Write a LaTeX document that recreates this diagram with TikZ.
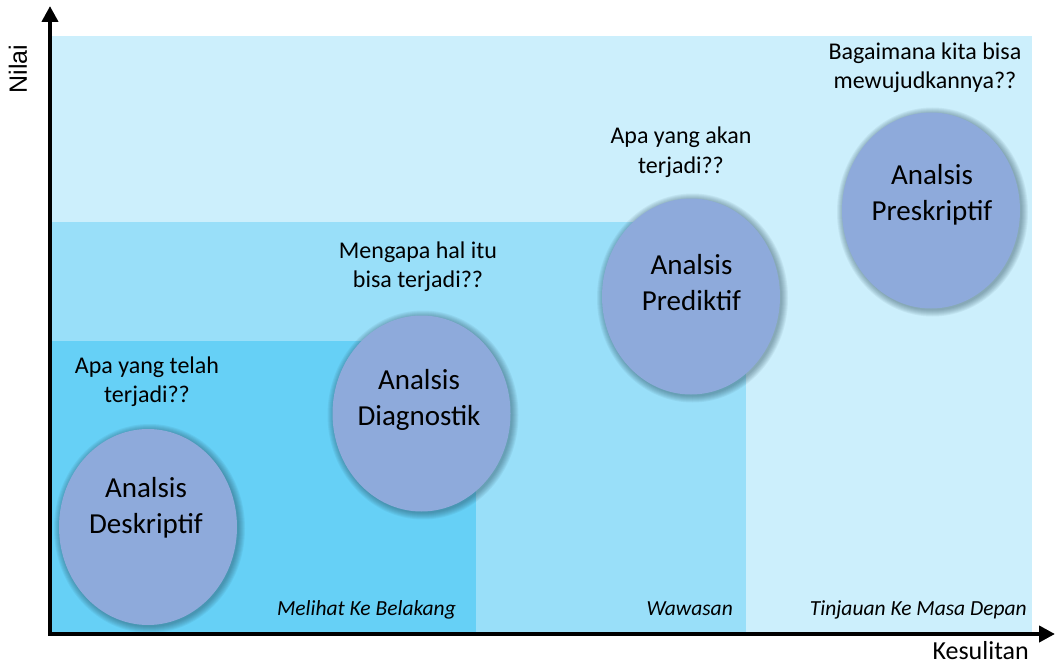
\documentclass[tikz,border=0pt]{standalone}
\usepackage{fontspec}
\setmainfont{Carlito}
\newfontfamily\arialfont{Liberation Sans}
\usetikzlibrary{shapes.geometric,arrows.meta}

\definecolor{bgA}{HTML}{CCEFFC}
\definecolor{bgB}{HTML}{99DFF9}
\definecolor{bgC}{HTML}{66D0F6}
\definecolor{circ}{HTML}{8EAADB}
\definecolor{halo}{HTML}{1F3F4F}

\begin{document}
\begin{tikzpicture}[x=1pt,y=-1pt,
  region/.style={fill=#1, draw=none},
  bubble/.style={ellipse, fill=circ, draw=none, minimum width=178pt, minimum height=196pt, inner sep=0pt},
  halostep/.style={fill=halo, fill opacity=0.065, draw=none},
  bubbletext/.style={anchor=base, align=center, font=\fontsize{29}{36}\selectfont},
  question/.style={anchor=base, align=center, font=\fontsize{24}{29}\selectfont},
  zone/.style={anchor=base east, inner sep=0pt, font=\fontsize{21.5}{25}\selectfont\itshape},
  axis/.style={line width=4pt, line join=miter, {Triangle[length=16pt,width=16pt]}-{Triangle[length=16pt,width=16pt]}}
]
\useasboundingbox (0,0) rectangle (1055,666);
\fill[white] (0,0) rectangle (1055,666);

% regions
\fill[region=bgA] (52,36) rectangle (1032,632);
\fill[region=bgB] (52,222) rectangle (746,632);
\fill[region=bgC] (52,341) rectangle (476,632);

% axes
\coordinate (ytip) at (50,6);
\coordinate (origin) at (50,634);
\coordinate (xtip) at (1055,634);
\draw[axis] (ytip) -- (origin) -- (xtip);

% bubble centres
\coordinate (c1) at (148,527);
\coordinate (c2) at (421.5,413.5);
\coordinate (c3) at (691,296.5);
\coordinate (c4) at (931,210.5);

% soft halos
\foreach \c in {c1,c2,c3,c4}{
  \foreach \r in {0.5,1.5,...,6.5}{
    \fill[halostep] ([xshift=1.5pt,yshift=-1.5pt]\c) ellipse [x radius=89pt+\r pt, y radius=98pt+\r pt];
  }
}

% bubbles
\node[bubble] (e1) at (c1) {};
\node[bubble] (e2) at (c2) {};
\node[bubble] (e3) at (c3) {};
\node[bubble] (e4) at (c4) {};

\node[bubbletext] (t1) at (146,533) {Analsis\\Deskriptif};
\node[bubbletext] (t2) at (419,425) {Analsis\\Diagnostik};
\node[bubbletext] (t3) at (691.5,310) {Analsis\\Prediktif};
\node[bubbletext] (t4) at (932,220) {Analsis\\Preskriptif};

% questions
\node[question] (q1) at (147,402) {Apa yang telah\\terjadi??};
\node[question] (q2) at (418,287) {Mengapa hal itu\\bisa terjadi??};
\node[question] (q3) at (681,173) {Apa yang akan\\terjadi??};
\node[question] (q4) at (925,89) {Bagaimana kita bisa\\mewujudkannya??};

% zones
\node[zone] (z1) at (456,615) {Melihat Ke Belakang};
\node[zone] (z2) at (733,615) {Wawasan};
\node[zone] (z3) at (1027,615) {Tinjauan Ke Masa Depan};

% axis labels
\node[anchor=base east, inner sep=0pt, font=\fontsize{26}{30}\selectfont] (xlabel) at (1029,659) {Kesulitan};
\node[rotate=90, anchor=base, font=\arialfont\fontsize{25}{29}\selectfont] (ylabel) at (27,69) {Nilai};
\end{tikzpicture}
\end{document}
